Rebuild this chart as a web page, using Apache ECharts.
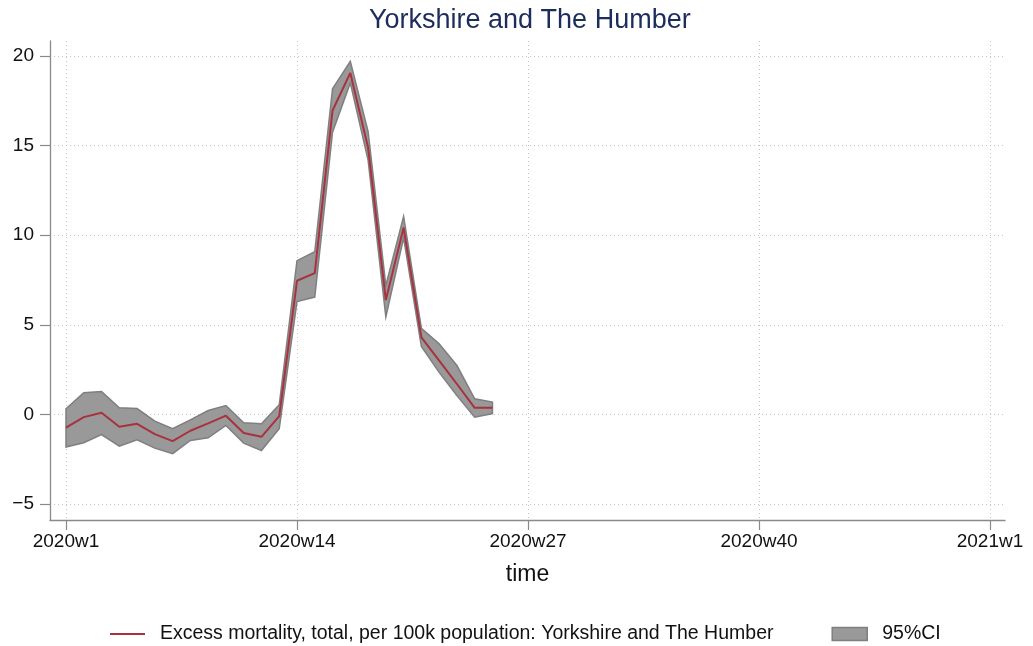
<!DOCTYPE html>
<html>
<head>
<meta charset="utf-8">
<script src="https://cdn.jsdelivr.net/npm/echarts@6/dist/echarts.min.js"></script>
<style>
html,body{margin:0;padding:0;background:#fff;}
#chart{width:1033px;height:646px;}
</style>
</head>
<body>
<div id="chart"></div>
<script>
// week number within 2020 (Stata %tw weeks)
const weeks = [1,2,3,4,5,6,7,8,9,10,11,12,13,14,15,16,17,18,19,20,21,22,23,24,25];
const excess = [-0.74,-0.15,0.09,-0.69,-0.52,-1.10,-1.49,-0.91,-0.50,-0.07,-1.04,-1.25,-0.09,7.46,7.89,16.96,19.06,14.9,6.38,10.43,4.30,3.0,1.7,0.37,0.37];
const ciUpper = [0.32,1.21,1.28,0.37,0.33,-0.37,-0.80,-0.30,0.22,0.50,-0.47,-0.52,0.54,8.58,9.08,18.17,19.70,15.8,7.2,11.05,4.8,3.94,2.73,0.87,0.69];
const ciLower = [-1.82,-1.58,-1.12,-1.77,-1.41,-1.88,-2.19,-1.45,-1.30,-0.61,-1.60,-2.01,-0.80,6.30,6.55,15.75,18.5,14.2,5.44,9.85,3.8,2.35,1.05,-0.15,0.05];
// x ticks: weeks since 2020w1
const xTickValues = [0,13,26,39,52];
const xTickLabels = ['2020w1','2020w14','2020w27','2020w40','2021w1'];
const yTickValues = [-5,0,5,10,15,20];

const lineName = 'Excess mortality, total, per 100k population: Yorkshire and The Humber';
const ciName = '95%CI';

const xOf = w => w - 1;
const FONT = '"Liberation Sans", Arial, Helvetica, sans-serif';
const LINE_RED = '#a8323e';
const CI_FILL = '#999999';
const CI_EDGE = '#7f7f7f';

const ciData = weeks.map((w,i)=>[xOf(w), ciLower[i], ciUpper[i]]);

const chart = echarts.init(document.getElementById('chart'), null, {renderer:'canvas'});
const gridStyle = {show:true, lineStyle:{color:'#c4c4c4', width:1, type:[1,3]}};

function renderBand(params, api){
  if (params.dataIndex !== 0) return null;
  const upperPts = ciData.map(d => api.coord([d[0], d[2]]));
  const lowerPts = ciData.slice().reverse().map(d => api.coord([d[0], d[1]]));
  return {
    type:'polygon',
    shape:{points: upperPts.concat(lowerPts)},
    style:{fill:CI_FILL, stroke:CI_EDGE, lineWidth:1.5, lineJoin:'miter'},
    silent:true
  };
}

chart.setOption({
  animation:false,
  backgroundColor:'#ffffff',
  textStyle:{fontFamily:FONT},
  title:{
    text:'Yorkshire and The Humber',
    left:364, top:2,
    textStyle:{fontFamily:FONT, fontSize:27, fontWeight:'normal', color:'#1c2d5c'}
  },
  grid:{left:50, right:28, top:41, bottom:126, containLabel:false},
  xAxis:{
    type:'value',
    min:-0.9, max:52.844,
    name:'time', nameLocation:'middle', nameGap:43,
    nameTextStyle:{fontFamily:FONT, fontSize:23, color:'#111'},
    axisLine:{show:true, onZero:false, lineStyle:{color:'#8a8a8a', width:1.3}},
    axisTick:{show:true, length:10, customValues:xTickValues, lineStyle:{color:'#8a8a8a', width:1.2}},
    axisLabel:{show:true, customValues:xTickValues, margin:12, fontFamily:FONT, fontSize:19, color:'#111',
      formatter:v => { const i = xTickValues.indexOf(Math.round(v)); return i>=0 ? xTickLabels[i] : ''; }},
    splitLine:gridStyle
  },
  yAxis:{
    type:'value',
    min:-5.89, max:20.84,
    axisLine:{show:true, onZero:false, lineStyle:{color:'#8a8a8a', width:1.3}},
    axisTick:{show:true, length:10, customValues:yTickValues, lineStyle:{color:'#8a8a8a', width:1.2}},
    axisLabel:{show:true, customValues:yTickValues, margin:16, fontFamily:FONT, fontSize:19, color:'#111',
      formatter:v => String(Math.round(v)).replace('-', '\u2212')},
    splitLine:gridStyle
  },
  legend:{
    left:110, top:624, padding:0,
    itemWidth:35, itemHeight:13, itemGap:58,
    textStyle:{fontFamily:FONT, fontSize:19.5, color:'#111', padding:[0,0,0,10]},
    data:[
      {name:lineName, icon:'path://M0,0H35M0,13H35M0,5.5H35V7.5H0Z', itemStyle:{color:LINE_RED, borderWidth:0}},
      {name:ciName, icon:'rect', itemStyle:{color:CI_FILL, borderColor:CI_EDGE, borderWidth:1.5}}
    ]
  },
  series:[
    {
      name:ciName, type:'custom',
      data:ciData,
      encode:{x:0, y:[1,2]},
      renderItem:renderBand,
      itemStyle:{color:CI_FILL},
      z:2, silent:true
    },
    {
      name:lineName, type:'line',
      data:weeks.map((w,i)=>[xOf(w), excess[i]]),
      symbol:'none', itemStyle:{color:LINE_RED},
      lineStyle:{color:LINE_RED, width:2}, z:3
    }
  ]
});
</script>
</body>
</html>
